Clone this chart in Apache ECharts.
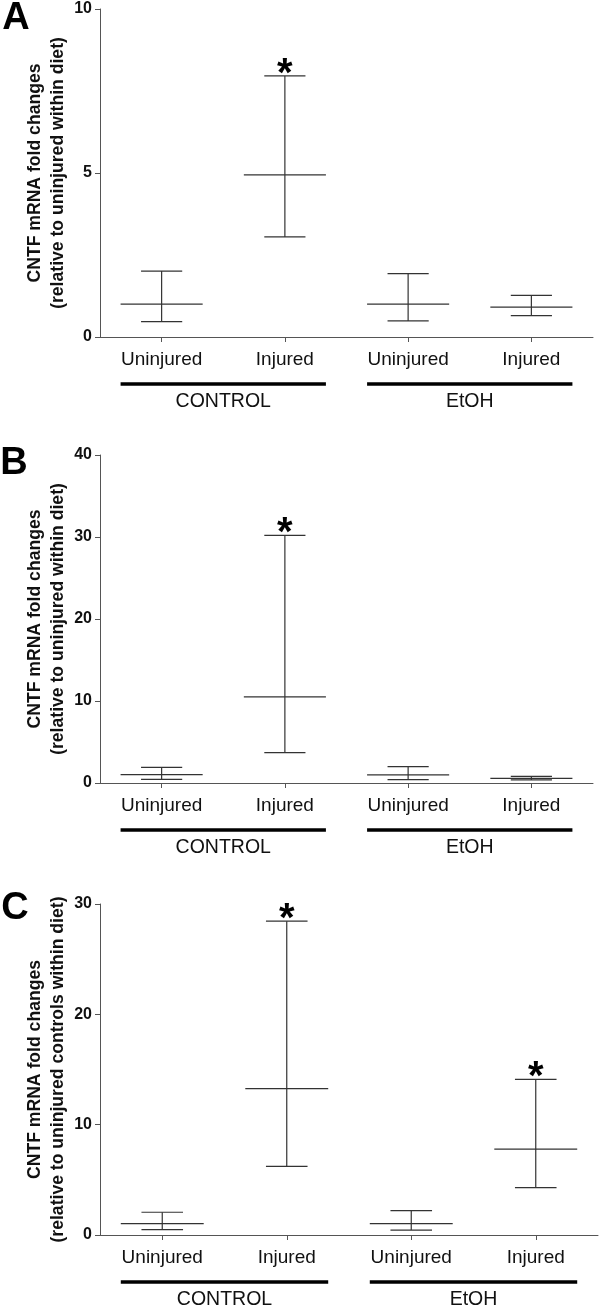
<!DOCTYPE html>
<html>
<head>
<meta charset="utf-8">
<style>
  html, body { margin: 0; padding: 0; background: #ffffff; }
  #chart { width: 600px; height: 1310px; }
</style>
<script src="https://cdn.jsdelivr.net/npm/echarts@6/dist/echarts.min.js"></script>
</head>
<body>
<div id="chart"></div>
<script>
// ---- Data ----
const categories = ['Uninjured', 'Injured', 'Uninjured', 'Injured'];
const groupLabels = ['CONTROL', 'EtOH'];
const groupSpans = [[0, 1], [2, 3]];

const panelLetters = ['A', 'B', 'C'];

const meanA = [1.0, 4.94, 1.0, 0.91];
const lowA  = [0.47, 3.05, 0.49, 0.65];
const highA = [2.01, 7.96, 1.93, 1.27];
const starA = [false, true, false, false];

const meanB = [1.01, 10.5, 1.0, 0.57];
const lowB  = [0.45, 3.7, 0.4, 0.37];
const highB = [1.9, 30.2, 2.0, 0.8];
const starB = [false, true, false, false];

const meanC = [1.03, 13.26, 1.03, 7.79];
const lowC  = [0.49, 6.22, 0.45, 4.29];
const highC = [2.06, 28.44, 2.21, 14.1];
const starC = [false, true, false, true];

const yMaxA = 10, yIntA = 5;
const yMaxB = 40, yIntB = 10;
const yMaxC = 30, yIntC = 10;

const yNameA = 'CNTF mRNA fold changes\n(relative to uninjured within diet)';
const yNameB = 'CNTF mRNA fold changes\n(relative to uninjured within diet)';
const yNameC = 'CNTF mRNA fold changes\n(relative to uninjured controls within diet)';

// ---- Styles ----
const FONT = "'Liberation Sans', Arial, Helvetica, sans-serif";
const AXIS_COLOR = '#555';
const BAR_COLOR = '#333';
const TEXT_COLOR = '#111';

const panels = [
  { mean: meanA, low: lowA, high: highA, star: starA, max: yMaxA, interval: yIntA, name: yNameA,
    grid: { left: 100, top: 9, width: 493, height: 328 } },
  { mean: meanB, low: lowB, high: highB, star: starB, max: yMaxB, interval: yIntB, name: yNameB,
    grid: { left: 100, top: 455, width: 493, height: 328 } },
  { mean: meanC, low: lowC, high: highC, star: starC, max: yMaxC, interval: yIntC, name: yNameC,
    grid: { left: 100, top: 904, width: 498, height: 331 } }
];

function errorRenderer(stars) {
  return function (params, api) {
    const i = api.value(0);
    const pm = api.coord([i, api.value(1)]);
    const pl = api.coord([i, api.value(2)]);
    const ph = api.coord([i, api.value(3)]);
    const band = api.size([1, 0])[0];
    const mh = band * 0.333, ch = band * 0.167;
    const st = { stroke: BAR_COLOR, lineWidth: 1.2 };
    const children = [
      { type: 'line', shape: { x1: pm[0] - mh, y1: pm[1], x2: pm[0] + mh, y2: pm[1] }, style: st },
      { type: 'line', shape: { x1: pm[0], y1: ph[1], x2: pm[0], y2: pl[1] }, style: st },
      { type: 'line', shape: { x1: pm[0] - ch, y1: ph[1], x2: pm[0] + ch, y2: ph[1] }, style: st },
      { type: 'line', shape: { x1: pm[0] - ch, y1: pl[1], x2: pm[0] + ch, y2: pl[1] }, style: st }
    ];
    if (stars[params.dataIndex]) {
      children.push({
        type: 'text',
        style: {
          text: '*', x: pm[0], y: ph[1] - 1,
          align: 'center', verticalAlign: 'middle',
          font: 'bold 40px ' + FONT, fill: '#000'
        }
      });
    }
    return { type: 'group', children: children };
  };
}

function groupRenderer(params, api) {
  const p0 = api.coord([api.value(0), 0]);
  const p1 = api.coord([api.value(2), 0]);
  const band = api.size([1, 0])[0];
  const x0 = p0[0] - band * 0.333;
  const x1 = p1[0] + band * 0.333;
  const y = p0[1] + 47;
  return {
    type: 'group',
    children: [
      { type: 'line', shape: { x1: x0, y1: y, x2: x1, y2: y },
        style: { stroke: '#000', lineWidth: 3.6 } },
      { type: 'text', style: {
          text: groupLabels[params.dataIndex], x: (x0 + x1) / 2, y: y + 18,
          align: 'center', verticalAlign: 'middle',
          font: '19.5px ' + FONT, fill: TEXT_COLOR } }
    ]
  };
}

const grids = [], xAxes = [], yAxes = [], series = [];
panels.forEach(function (p, k) {
  grids.push(Object.assign({ containLabel: false, outerBoundsMode: 'none' }, p.grid));
  xAxes.push({
    type: 'category', gridIndex: k, data: categories, boundaryGap: true,
    axisLine: { show: true, lineStyle: { color: AXIS_COLOR, width: 1 } },
    axisTick: { show: true, alignWithLabel: true, length: 5, lineStyle: { color: AXIS_COLOR } },
    axisLabel: { fontSize: 19, fontFamily: FONT, color: TEXT_COLOR, margin: 13 },
    splitLine: { show: false }
  });
  yAxes.push({
    type: 'value', gridIndex: k, min: 0, max: p.max, interval: p.interval,
    axisLine: { show: true, lineStyle: { color: AXIS_COLOR, width: 1 } },
    axisTick: { show: true, length: 5, lineStyle: { color: AXIS_COLOR } },
    axisLabel: { fontSize: 16, fontWeight: 'bold', fontFamily: FONT, color: TEXT_COLOR, margin: 8 },
    splitLine: { show: false },
    name: p.name, nameLocation: 'middle', nameRotate: 90, nameGap: 30, nameMoveOverlap: false,
    nameTextStyle: { fontSize: 17.6, fontWeight: 'bold', fontFamily: FONT, color: TEXT_COLOR, lineHeight: 23 }
  });
  series.push({
    type: 'custom', xAxisIndex: k, yAxisIndex: k,
    renderItem: errorRenderer(p.star),
    encode: { x: 0, y: [1, 2, 3] },
    data: categories.map(function (c, i) { return [i, p.mean[i], p.low[i], p.high[i]]; }),
    clip: false, silent: true
  });
  series.push({
    type: 'custom', xAxisIndex: k, yAxisIndex: k,
    renderItem: groupRenderer,
    encode: { x: 0, y: 1 },
    data: groupSpans.map(function (s) { return [s[0], 0, s[1]]; }),
    clip: false, silent: true
  });
});

const letterPos = [[16, 19], [14, 464], [15, 909]];
const graphics = panelLetters.map(function (L, k) {
  return {
    type: 'text', x: letterPos[k][0], y: letterPos[k][1],
    style: { text: L, font: 'bold 38px ' + FONT, fill: '#000', align: 'center', verticalAlign: 'middle' }
  };
});

const chart = echarts.init(document.getElementById('chart'), null, { renderer: 'canvas' });
chart.setOption({
  animation: false,
  backgroundColor: '#ffffff',
  grid: grids,
  xAxis: xAxes,
  yAxis: yAxes,
  series: series,
  graphic: graphics
});
</script>
</body>
</html>
